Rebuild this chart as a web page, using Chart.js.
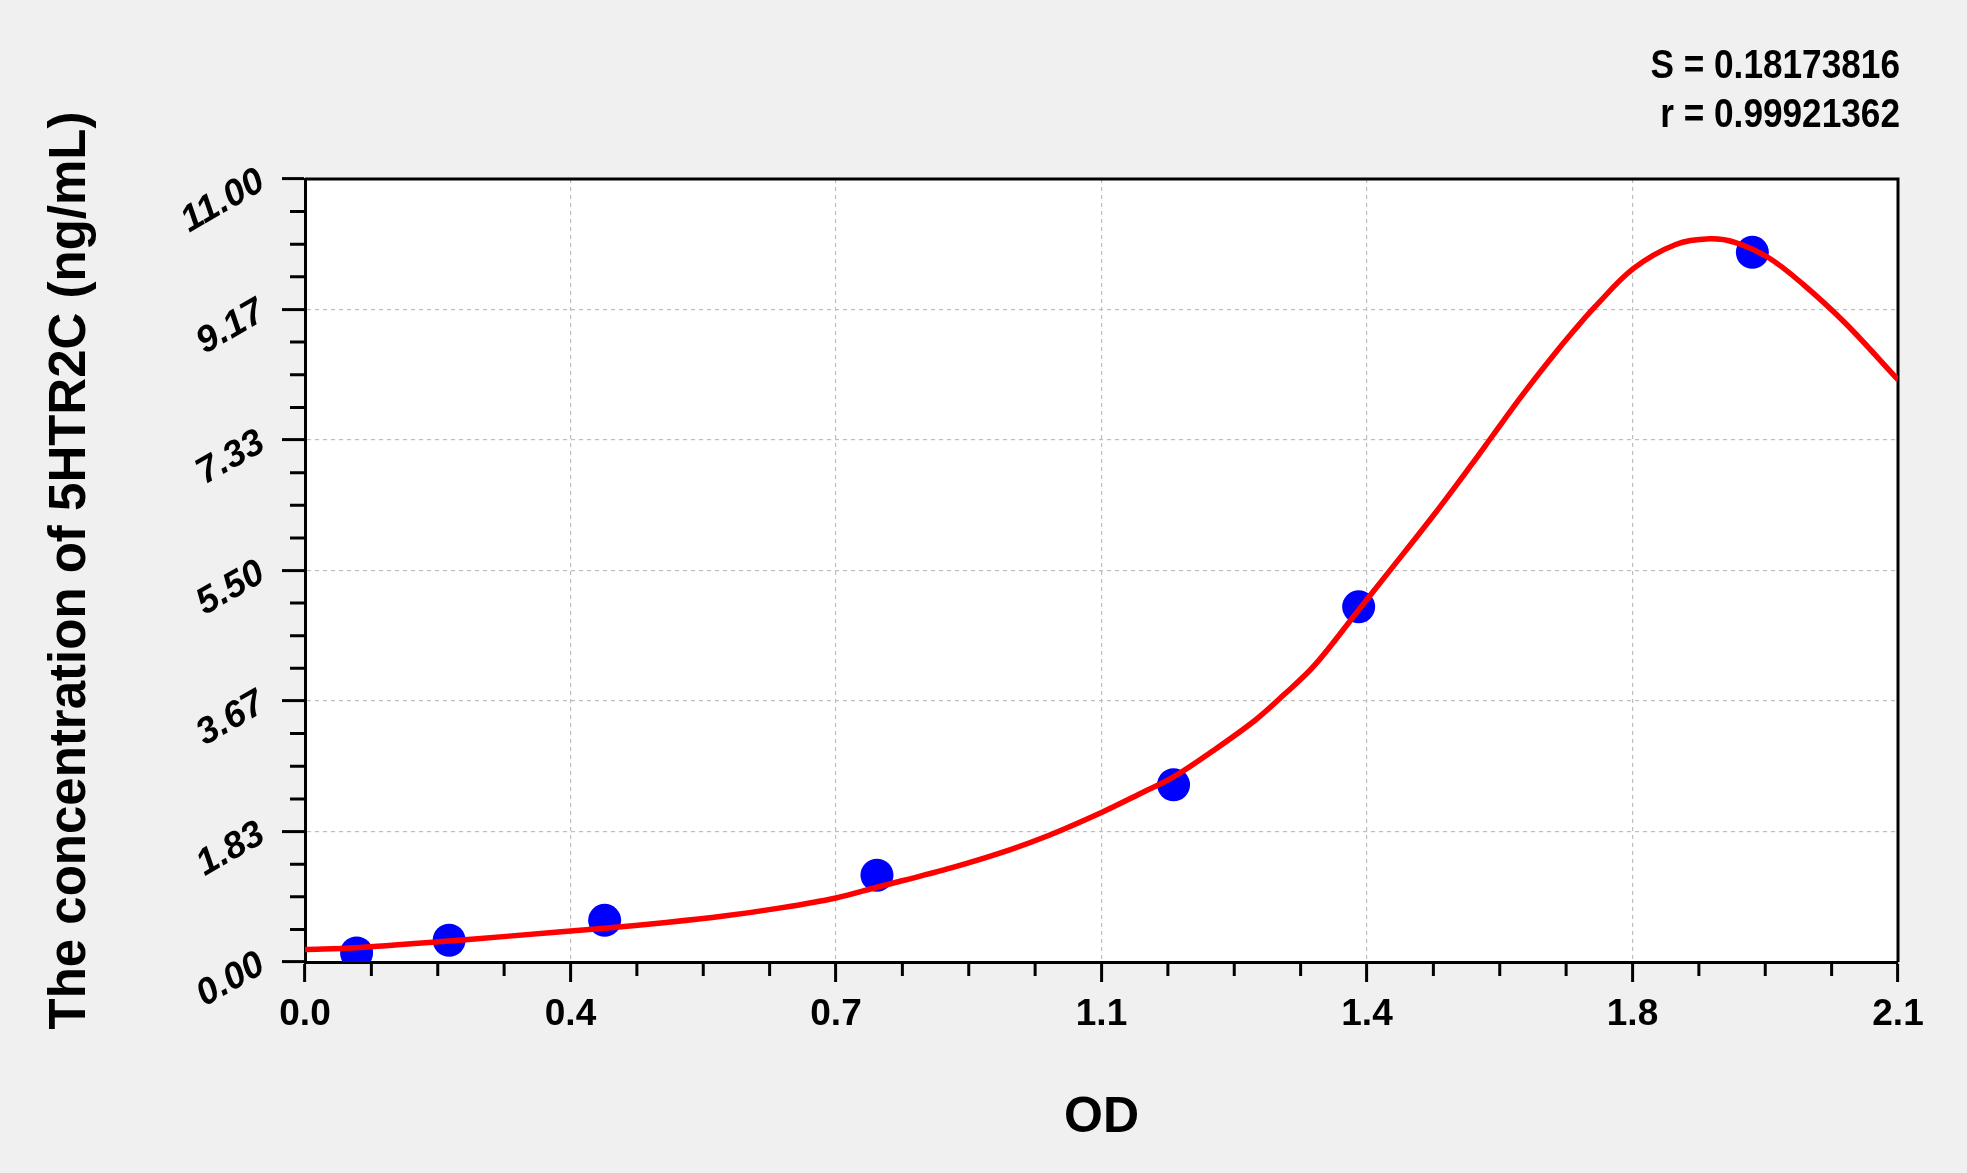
<!DOCTYPE html>
<html>
<head>
<meta charset="utf-8">
<title>5HTR2C standard curve</title>
<script src="https://cdn.jsdelivr.net/npm/chart.js@4.4.1/dist/chart.umd.min.js"></script>
<style>
  html, body { margin: 0; padding: 0; background: #f0f0f0; overflow: hidden; }
  #wrap { width: 1967px; height: 1173px; }
</style>
</head>
<body>
<div id="wrap"><canvas id="curveChart" width="1967" height="1173"></canvas></div>
<script>
// Standards (OD vs concentration)
const pointOD = [0.068, 0.190, 0.395, 0.754, 1.145, 1.389, 1.908];
const pointConc = [0.128, 0.305, 0.585, 1.22, 2.49, 4.99, 9.97];

// Fitted curve, sampled along the red line
const curveOD = [0, 0.068, 0.19, 0.265, 0.395, 0.476, 0.552, 0.627, 0.70, 0.754,
  0.854, 0.93, 0.981, 1.05, 1.10, 1.145, 1.196, 1.253, 1.29, 1.331, 1.39,
  1.428, 1.488, 1.538, 1.566, 1.603, 1.644, 1.672, 1.701, 1.751, 1.807,
  1.852, 1.885, 1.93, 1.975, 2.031, 2.1];
const curveConc = [0.176, 0.20, 0.295, 0.36, 0.475, 0.555, 0.645, 0.76, 0.90, 1.05,
  1.33, 1.58, 1.78, 2.10, 2.36, 2.60, 2.96, 3.40, 3.75, 4.17, 4.96,
  5.47, 6.28, 6.99, 7.40, 7.94, 8.50, 8.86, 9.21, 9.74, 10.08,
  10.16, 10.11, 9.89, 9.52, 8.97, 8.18];

// Axis ticks
const xTickValues = [0, 0.35, 0.7, 1.05, 1.4, 1.75, 2.1];
const xTickLabels = ['0.0', '0.4', '0.7', '1.1', '1.4', '1.8', '2.1'];
const yTickValues = [0, 1.8333, 3.6667, 5.5, 7.3333, 9.1667, 11];
const yTickLabels = ['0.00', '1.83', '3.67', '5.50', '7.33', '9.17', '11.00'];

const statLines = ['S = 0.18173816', 'r = 0.99921362'];

const fontFamily = "'Liberation Sans', Arial, sans-serif";

function minorValues(majors) {
  const out = [];
  for (let i = 0; i < majors.length - 1; i++) {
    const a = majors[i], b = majors[i + 1];
    for (let k = 1; k < 4; k++) out.push(a + (b - a) * k / 4);
  }
  return out;
}

// White plot area, frame and minor tick marks
const framePlugin = {
  id: 'frame',
  beforeDraw(chart) {
    const { ctx, chartArea: a } = chart;
    ctx.save();
    ctx.fillStyle = '#ffffff';
    ctx.fillRect(a.left, a.top, a.right - a.left, a.bottom - a.top);
    ctx.restore();
  },
  beforeDatasetsDraw(chart) {
    const { ctx, chartArea: a, scales } = chart;
    ctx.save();
    ctx.strokeStyle = '#000';
    ctx.lineWidth = 3;
    ctx.beginPath();
    ctx.moveTo(a.left, a.top);
    ctx.lineTo(a.right, a.top);
    ctx.lineTo(a.right, a.bottom);
    ctx.stroke();

    ctx.beginPath();
    minorValues(xTickValues).forEach(v => {
      const px = scales.x.getPixelForValue(v);
      ctx.moveTo(px, a.bottom);
      ctx.lineTo(px, a.bottom + 14);
    });
    minorValues(yTickValues).forEach(v => {
      const py = scales.y.getPixelForValue(v);
      ctx.moveTo(a.left - 15, py);
      ctx.lineTo(a.left, py);
    });
    ctx.stroke();
    ctx.restore();
  },
  afterDraw(chart) {
    const { ctx, chartArea: a } = chart;
    ctx.save();
    ctx.fillStyle = '#000';
    ctx.font = 'bold 40px ' + fontFamily;
    ctx.textAlign = 'right';
    ctx.textBaseline = 'alphabetic';
    statLines.forEach((line, i) => {
      ctx.save();
      ctx.translate(a.right + 2, 78 + i * 49);
      ctx.scale(0.88, 1);
      ctx.fillText(line, 0, 0);
      ctx.restore();
    });
    ctx.restore();
  }
};

new Chart(document.getElementById('curveChart'), {
  type: 'scatter',
  data: {
    datasets: [
      {
        label: 'fit',
        data: curveOD.map((x, i) => ({ x: x, y: curveConc[i] })),
        showLine: true,
        borderColor: '#ff0000',
        borderWidth: 5.5,
        pointRadius: 0,
        tension: 0.35
      },
      {
        label: 'standards',
        data: pointOD.map((x, i) => ({ x: x, y: pointConc[i] })),
        backgroundColor: '#0000ff',
        borderColor: '#0000ff',
        borderWidth: 0,
        pointRadius: 16.5
      }
    ]
  },
  options: {
    responsive: false,
    animation: false,
    devicePixelRatio: 1,
    layout: { padding: { top: 179, right: 69, bottom: 0, left: 0 } },
    plugins: { legend: { display: false }, tooltip: { enabled: false } },
    scales: {
      x: {
        type: 'linear',
        min: 0,
        max: 2.1,
        afterBuildTicks: axis => { axis.ticks = xTickValues.map(v => ({ value: v })); },
        afterFit: axis => { axis.height = 211; },
        ticks: {
          autoSkip: false,
          maxRotation: 0,
          padding: 11,
          color: '#000',
          font: { family: fontFamily, size: 37, weight: 'bold' },
          callback: (v, i) => xTickLabels[i]
        },
        grid: {
          color: '#bdbdbd',
          lineWidth: 1.2,
          tickColor: '#000',
          tickWidth: 3,
          tickLength: 20
        },
        border: { color: '#000', width: 3, dash: [4, 4] },
        title: {
          display: true,
          text: 'OD',
          color: '#000',
          font: { family: fontFamily, size: 50, weight: 'bold' },
          padding: { top: 0, bottom: 25 }
        }
      },
      y: {
        type: 'linear',
        min: 0,
        max: 11,
        afterBuildTicks: axis => { axis.ticks = yTickValues.map(v => ({ value: v })); },
        afterFit: axis => { axis.width = 305; },
        ticks: {
          autoSkip: false,
          minRotation: 30,
          maxRotation: 30,
          padding: 20,
          color: '#000',
          font: { family: fontFamily, size: 37, weight: 'bold', style: 'italic' },
          callback: (v, i) => yTickLabels[i]
        },
        grid: {
          color: '#bdbdbd',
          lineWidth: 1.2,
          tickColor: '#000',
          tickWidth: 3,
          tickLength: 23
        },
        border: { color: '#000', width: 3, dash: [4, 4] },
        title: {
          display: true,
          text: 'The concentration of 5HTR2C (ng/mL)',
          color: '#000',
          font: { family: fontFamily, size: 51, weight: 'bold' },
          padding: { top: 40, bottom: 0 }
        }
      }
    }
  },
  plugins: [framePlugin]
});
</script>
</body>
</html>
